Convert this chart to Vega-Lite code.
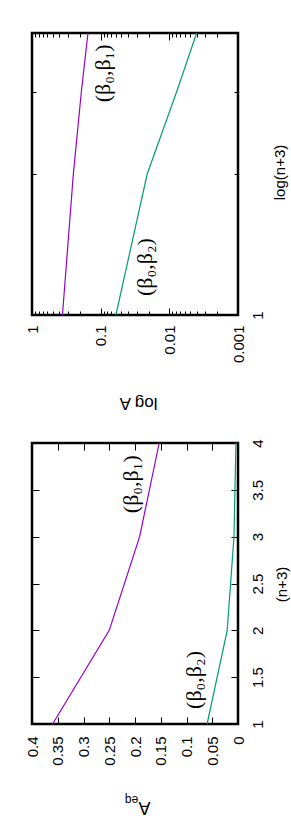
{
  "$schema": "https://vega.github.io/schema/vega-lite/v6.json",
  "padding": {"left": 23, "top": 29, "right": 0, "bottom": 0},
  "spacing": 24,
  "background": "white",
  "config": {
    "view": {"stroke": "black", "strokeWidth": 2.5},
    "axis": {"domain": false, "grid": false, "tickColor": "black", "labelColor": "black", "titleColor": "black",
             "labelFont": "Liberation Sans", "titleFont": "Liberation Sans", "labelFontSize": 15, "titleFontSize": 16,
             "titleFontWeight": "normal", "minExtent": 0, "labelFlush": false, "labelOverlap": false, "labelBound": false, "tickWidth": 1},
    "line": {"strokeWidth": 1.2}
  },
  "datasets": {
    "curves": [
      {"n": 1, "A": 0.36, "s": "b1"}, {"n": 2, "A": 0.25, "s": "b1"}, {"n": 3, "A": 0.191, "s": "b1"}, {"n": 4, "A": 0.153, "s": "b1"},
      {"n": 1, "A": 0.06, "s": "b2"}, {"n": 2, "A": 0.021, "s": "b2"}, {"n": 3, "A": 0.0078, "s": "b2"}, {"n": 4, "A": 0.0040, "s": "b2"}
    ],
    "labelsTop": [
      {"n": 3.28, "A": 0.0925, "label": "(β₀,β₁)"},
      {"n": 1.266, "A": 0.0226, "label": "(β₀,β₂)"}
    ],
    "labelsBottom": [
      {"n": 3.56, "A": 0.207, "label": "(β₀,β₁)"},
      {"n": 1.47, "A": 0.086, "label": "(β₀,β₂)"}
    ]
  },
  "vconcat": [
    {
      "width": 206, "height": 282,
      "resolve": {"axis": {"x": "independent", "y": "independent"}},
      "layer": [
        {
          "data": {"name": "curves"},
          "mark": {"type": "line"},
          "encoding": {
            "x": {"field": "A", "type": "quantitative", "scale": {"type": "log", "domain": [0.001, 1], "reverse": true, "nice": false},
                  "axis": {"orient": "bottom", "values": [1, 0.1, 0.01, 0.001], "format": "~g", "tickSize": -7, "labelPadding": 17,
                           "labelAngle": 270, "labelAlign": "right", "labelBaseline": "middle",
                           "title": "log A", "titleAngle": 180, "titleBaseline": "alphabetic", "titleAlign": "center", "titleX": 106, "titleY": 82, "titleFontSize": 17}},
            "y": {"field": "n", "type": "quantitative", "scale": {"type": "log", "domain": [1, 4], "nice": false},
                  "axis": {"orient": "right", "values": [1], "format": "~g", "tickSize": -7, "labelPadding": 19,
                           "labelAngle": 270, "labelAlign": "center", "labelBaseline": "top",
                           "title": "log(n+3)", "titleAngle": 270, "titleAlign": "center", "titleBaseline": "middle", "titleX": 41, "titleY": 139, "titleFontSize": 15}},
            "color": {"field": "s", "type": "nominal", "scale": {"domain": ["b1", "b2"], "range": ["#9400d3", "#009e73"]}, "legend": null}
          }
        },
        {
          "data": {"name": "curves"},
          "mark": {"type": "line", "opacity": 0},
          "encoding": {
            "x": {"field": "A", "type": "quantitative",
                  "axis": {"orient": "bottom", "values": [0.002, 0.003, 0.004, 0.005, 0.006, 0.007, 0.008, 0.009, 0.02, 0.03, 0.04, 0.05, 0.06, 0.07, 0.08, 0.09, 0.2, 0.3, 0.4, 0.5, 0.6, 0.7, 0.8, 0.9],
                           "tickSize": -4, "labels": false, "title": null}},
            "y": {"field": "n", "type": "quantitative",
                  "axis": {"orient": "right", "values": [2, 3], "tickSize": -4, "labels": false, "title": null}}
          }
        },
        {
          "data": {"name": "curves"},
          "mark": {"type": "line", "opacity": 0},
          "encoding": {
            "x": {"field": "A", "type": "quantitative",
                  "axis": {"orient": "top", "values": [1, 0.1, 0.01, 0.001], "tickSize": -7, "labels": false, "title": null}},
            "y": {"field": "n", "type": "quantitative",
                  "axis": {"orient": "left", "values": [1], "tickSize": -7, "labels": false, "title": null}}
          }
        },
        {
          "data": {"name": "curves"},
          "mark": {"type": "line", "opacity": 0},
          "encoding": {
            "x": {"field": "A", "type": "quantitative",
                  "axis": {"orient": "top", "values": [0.002, 0.003, 0.004, 0.005, 0.006, 0.007, 0.008, 0.009, 0.02, 0.03, 0.04, 0.05, 0.06, 0.07, 0.08, 0.09, 0.2, 0.3, 0.4, 0.5, 0.6, 0.7, 0.8, 0.9],
                           "tickSize": -4, "labels": false, "title": null}},
            "y": {"field": "n", "type": "quantitative",
                  "axis": {"orient": "left", "values": [2, 3], "tickSize": -4, "labels": false, "title": null}}
          }
        },
        {
          "data": {"name": "labelsTop"},
          "mark": {"type": "text", "font": "Liberation Serif", "fontSize": 22, "angle": 270, "align": "center", "baseline": "middle", "color": "black"},
          "encoding": {
            "x": {"field": "A", "type": "quantitative", "axis": null},
            "y": {"field": "n", "type": "quantitative", "axis": null},
            "text": {"field": "label"}
          }
        }
      ]
    },
    {
      "width": 206, "height": 281,
      "resolve": {"axis": {"x": "independent", "y": "independent"}},
      "layer": [
        {
          "data": {"name": "curves"},
          "mark": {"type": "line"},
          "encoding": {
            "x": {"field": "A", "type": "quantitative", "scale": {"domain": [0, 0.4], "reverse": true, "nice": false, "zero": false},
                  "axis": {"orient": "bottom", "values": [0, 0.05, 0.1, 0.15, 0.2, 0.25, 0.3, 0.35, 0.4], "format": "~g", "tickSize": -7, "labelPadding": 19,
                           "labelAngle": 270, "labelAlign": "right", "labelBaseline": "middle",
                           "title": "A", "titleAngle": 180, "titleBaseline": "alphabetic", "titleAlign": "center", "titleX": 112, "titleY": 77, "titleFontSize": 18}},
            "y": {"field": "n", "type": "quantitative", "scale": {"domain": [1, 4], "nice": false, "zero": false},
                  "axis": {"orient": "right", "values": [1, 1.5, 2, 2.5, 3, 3.5, 4], "format": "~g", "tickSize": -7, "labelPadding": 19,
                           "labelAngle": 270, "labelAlign": "center", "labelBaseline": "top",
                           "title": "(n+3)", "titleAngle": 270, "titleAlign": "center", "titleBaseline": "middle", "titleX": 43, "titleY": 141, "titleFontSize": 15}},
            "color": {"field": "s", "type": "nominal", "scale": {"domain": ["b1", "b2"], "range": ["#9400d3", "#009e73"]}, "legend": null}
          }
        },
        {
          "data": {"name": "curves"},
          "mark": {"type": "line", "opacity": 0},
          "encoding": {
            "x": {"field": "A", "type": "quantitative",
                  "axis": {"orient": "top", "values": [0, 0.05, 0.1, 0.15, 0.2, 0.25, 0.3, 0.35, 0.4], "tickSize": -7, "labels": false, "title": null}},
            "y": {"field": "n", "type": "quantitative",
                  "axis": {"orient": "left", "values": [1, 1.5, 2, 2.5, 3, 3.5, 4], "tickSize": -7, "labels": false, "title": null}}
          }
        },
        {
          "data": {"name": "curves"},
          "mark": {"type": "line", "opacity": 0},
          "encoding": {
            "x": {"field": "A", "type": "quantitative",
                  "axis": {"orient": "bottom", "values": [], "ticks": false, "labels": false,
                           "title": "eq", "titleAngle": 180, "titleBaseline": "alphabetic", "titleAlign": "center", "titleX": 99, "titleY": 71, "titleFontSize": 12}},
            "y": {"field": "n", "type": "quantitative", "axis": null}
          }
        },
        {
          "data": {"name": "labelsBottom"},
          "mark": {"type": "text", "font": "Liberation Serif", "fontSize": 22, "angle": 270, "align": "center", "baseline": "middle", "color": "black"},
          "encoding": {
            "x": {"field": "A", "type": "quantitative", "axis": null},
            "y": {"field": "n", "type": "quantitative", "axis": null},
            "text": {"field": "label"}
          }
        }
      ]
    }
  ]
}
